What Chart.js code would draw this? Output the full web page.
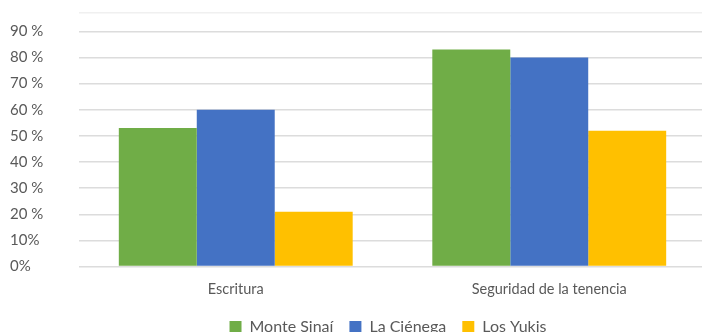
<!DOCTYPE html>
<html>
<head>
<meta charset="utf-8">
<script src="https://cdn.jsdelivr.net/npm/chart.js@4.4.1/dist/chart.umd.min.js"></script>
<style>
  html, body { margin: 0; padding: 0; background: #fff; overflow: hidden; }
  #wrap { width: 706px; height: 332px; position: relative; }
</style>
</head>
<body>
<div id="wrap"><canvas id="c"></canvas></div>
<script>
const categories = ['Escritura', 'Seguridad de la tenencia'];
const seriesNames = ['Monte Sinaí', 'La Ciénega', 'Los Yukis'];
const monteSinai = [53, 83];
const laCienega = [60, 80];
const losYukis = [21, 52];
const seriesColors = ['#70AD47', '#4472C4', '#FFC000'];
const yTickValues = [0, 10, 20, 30, 40, 50, 60, 70, 80, 90];
const yTickLabels = ['0%', '10%', '20 %', '30 %', '40 %', '50 %', '60 %', '70 %', '80 %', '90 %'];
const yMax = 97;

const textColor = '#595959';
const fontFamily = 'Lato, "Open Sans", sans-serif';

const legendShift = {
  id: 'legendShift',
  afterLayout(chart) {
    const l = chart.legend;
    if (l) { l.left += 30; l.right += 30; l.top -= 1; l.bottom -= 1; }
  }
};

new Chart(document.getElementById('c'), {
  type: 'bar',
  data: {
    labels: categories,
    datasets: [monteSinai, laCienega, losYukis].map((d, i) => ({
      label: seriesNames[i],
      data: d,
      backgroundColor: seriesColors[i],
      borderWidth: 0
    }))
  },
  options: {
    responsive: true,
    maintainAspectRatio: false,
    animation: false,
    layout: { padding: { left: 10, right: 0, top: 13, bottom: -14 } },
    datasets: { bar: { categoryPercentage: 0.746, barPercentage: 1.0 } },
    plugins: {
      legend: {
        position: 'bottom',
        labels: {
          boxWidth: 12,
          boxHeight: 12,
          padding: 16,
          color: textColor,
          font: { family: fontFamily, size: 16 }
        }
      },
      tooltip: { enabled: false }
    },
    scales: {
      x: {
        grid: { display: false },
        border: { display: false },
        ticks: { color: textColor, font: { family: fontFamily, size: 14.5 }, padding: 6 }
      },
      y: {
        min: 0,
        max: yMax,
        border: { display: false },
        afterFit(axis) { axis.width = 69; axis.paddingTop = 0; axis.paddingBottom = 0; },
        afterBuildTicks(axis) {
          axis.ticks = yTickValues.map(v => ({ value: v })).concat([{ value: yMax }]);
        },
        grid: {
          color: ctx => (ctx.tick && ctx.tick.value === yMax) ? '#f0f0f0' : '#dcdcdc',
          lineWidth: 1.5,
          drawTicks: false
        },
        ticks: {
          crossAlign: 'far',
          padding: 10,
          color: textColor,
          font: { family: fontFamily, size: 15 },
          callback: (v) => {
            const i = yTickValues.indexOf(v);
            return i >= 0 ? yTickLabels[i] : '';
          }
        }
      }
    }
  },
  plugins: [legendShift]
});
</script>
</body>
</html>
